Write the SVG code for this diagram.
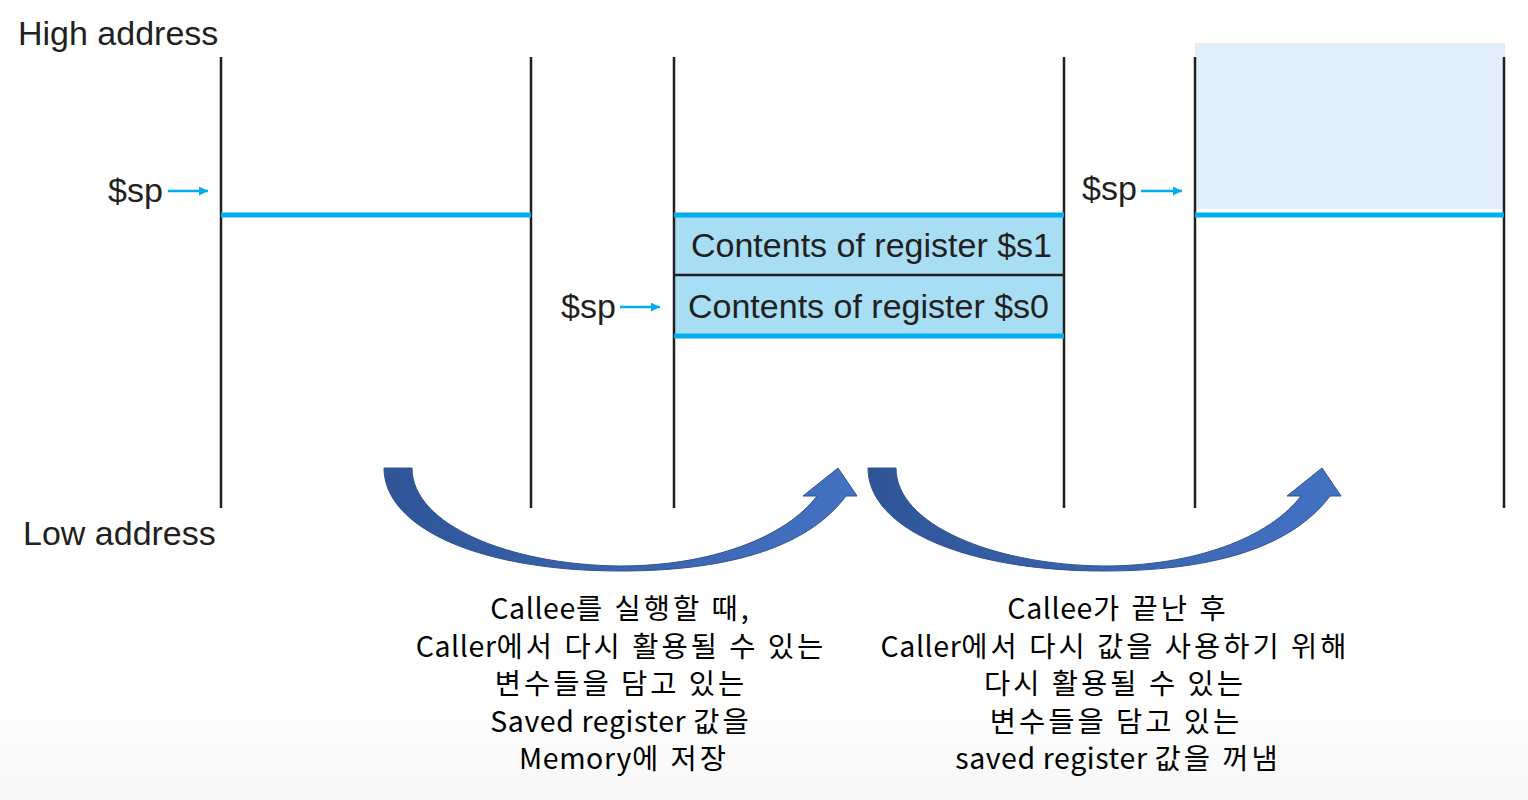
<svg xmlns="http://www.w3.org/2000/svg" width="1528" height="800" viewBox="0 0 1528 800">
<defs>
<style>
.lbl{font-family:"Liberation Sans",Arial,sans-serif;font-size:34px;fill:#231f20}
.col{stroke:#231f20;stroke-width:2.5;fill:none}
.sp{stroke:#00aeef;stroke-width:5;fill:none}
.spa{stroke:#00aeef;stroke-width:2.5;fill:none}
.kr{font-family:"Noto Sans CJK KR","Noto Sans",sans-serif;font-size:28.5px;letter-spacing:3px;fill:#000;text-anchor:middle}
.en{letter-spacing:0.6px}
</style>
<linearGradient id="bg" x1="0" y1="0" x2="0" y2="1">
<stop offset="0" stop-color="#ffffff"/>
<stop offset="1" stop-color="#f7f7f7"/>
</linearGradient>
<linearGradient id="ag" x1="0" y1="0" x2="1" y2="0">
<stop offset="0" stop-color="#2f5597"/>
<stop offset="1" stop-color="#4472c4"/>
</linearGradient>
<marker id="ah" viewBox="0 0 10 10" refX="10" refY="5" markerWidth="5" markerHeight="3.6" orient="auto" markerUnits="strokeWidth">
<path d="M0,0 L10,5 L0,10 Z" fill="#00aeef"/>
</marker>
<path id="carrow" d="M384,468 L412,468 C412,525 510,565 620,566 C710,566 785,538 817,496 L803,496 L838,468 L857,496 L846,496 C805,551 720,571 620,571 C480,571 384,528 384,468 Z"/>
</defs>
<rect x="0" y="0" width="1528" height="800" fill="#ffffff"/>
<rect x="0" y="690" width="1528" height="110" fill="url(#bg)"/>

<text class="lbl" x="18" y="45">High address</text>
<text class="lbl" x="23" y="545">Low address</text>

<g id="stack1">
<line class="col" x1="221" y1="57" x2="221" y2="508"/>
<line class="col" x1="531" y1="57" x2="531" y2="508"/>
<line class="sp" x1="221" y1="215" x2="531" y2="215"/>
</g>

<g id="stack2">
<rect x="674" y="215" width="390" height="121" fill="#a8def4"/>
<line class="col" x1="674" y1="57" x2="674" y2="508"/>
<line class="col" x1="1064" y1="57" x2="1064" y2="508"/>
<line x1="674" y1="275" x2="1064" y2="275" stroke="#231f20" stroke-width="2.5"/>
<line class="sp" x1="674" y1="215" x2="1064" y2="215"/>
<line class="sp" x1="674" y1="336" x2="1064" y2="336"/>
<text class="lbl" x="691" y="257">Contents of register $s1</text>
<text class="lbl" x="688" y="318">Contents of register $s0</text>
</g>

<g id="stack3">
<rect x="1195" y="43" width="310" height="166" fill="#e3eefb"/>
<line class="col" x1="1195" y1="57" x2="1195" y2="508"/>
<line class="col" x1="1504" y1="57" x2="1504" y2="508"/>
<line class="sp" x1="1195" y1="215" x2="1504" y2="215"/>
</g>

<g id="sp1">
<text class="lbl" x="108" y="202">$sp</text>
</g>
<g id="sp2">
<text class="lbl" x="561" y="318">$sp</text>
</g>
<g id="sp3">
<text class="lbl" x="1082" y="200">$sp</text>
</g>

<g id="connectors">
<line class="spa" x1="168" y1="191" x2="208" y2="191" marker-end="url(#ah)"/>
<line class="spa" x1="620" y1="307" x2="660" y2="307" marker-end="url(#ah)"/>
<line class="spa" x1="1141" y1="191" x2="1182" y2="191" marker-end="url(#ah)"/>
<use href="#carrow" fill="url(#ag)" stroke="#2f528f" stroke-width="1"/>
<use href="#carrow" transform="translate(484,0)" fill="url(#ag)" stroke="#2f528f" stroke-width="1"/>
</g>

<g id="note1">
<text class="kr" x="621" y="619"><tspan class="en">Callee</tspan>를 실행할 때,</text>
<text class="kr" x="621" y="657"><tspan class="en">Caller</tspan>에서 다시 활용될 수 있는</text>
<text class="kr" x="621" y="694">변수들을 담고 있는</text>
<text class="kr" x="621" y="732"><tspan class="en">Saved register </tspan>값을</text>
<text class="kr" x="624" y="769"><tspan class="en">Memory</tspan>에 저장</text>
</g>

<g id="note2">
<text class="kr" x="1118" y="619"><tspan class="en">Callee</tspan>가 끝난 후</text>
<text class="kr" x="1115" y="657"><tspan class="en">Caller</tspan>에서 다시 값을 사용하기 위해</text>
<text class="kr" x="1115" y="694">다시 활용될 수 있는</text>
<text class="kr" x="1116" y="732">변수들을 담고 있는</text>
<text class="kr" x="1118" y="769"><tspan class="en">saved register </tspan>값을 꺼냄</text>
</g>
</svg>
